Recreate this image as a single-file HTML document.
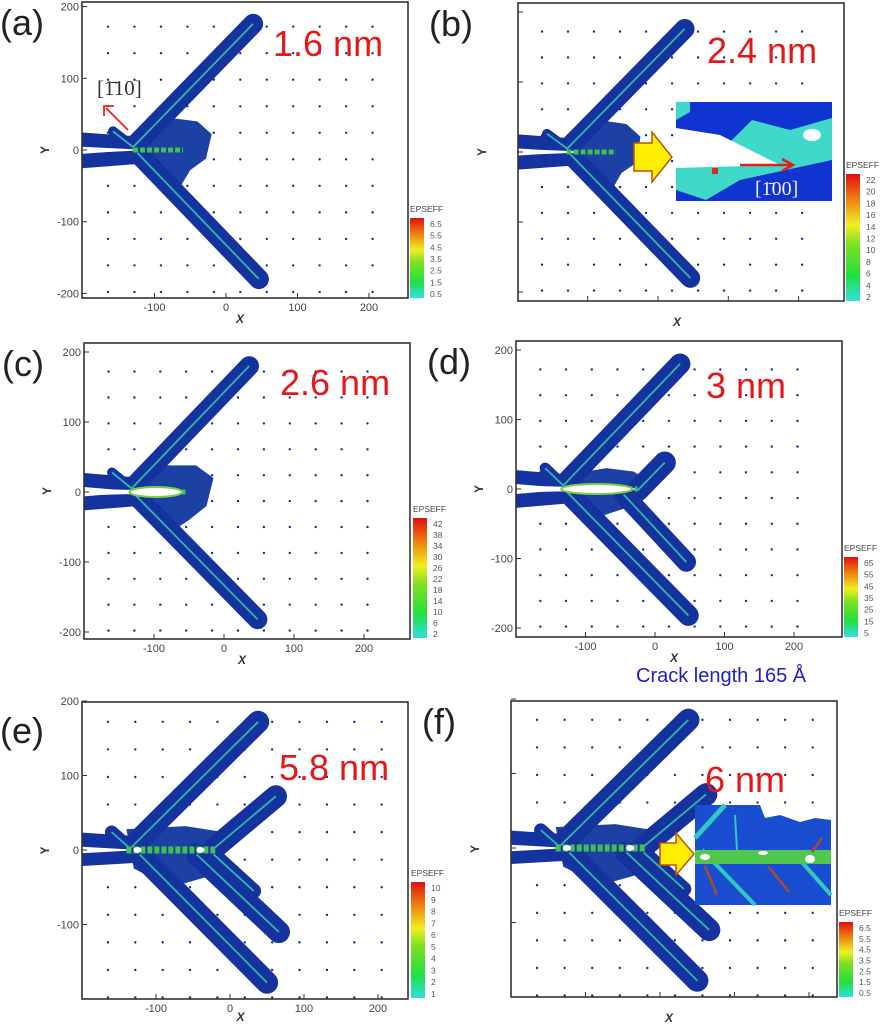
<!DOCTYPE html>
<html><head><meta charset="utf-8">
<style>
html,body{margin:0;padding:0;background:#fff;}
svg{display:block;font-family:"Liberation Sans",sans-serif;}
</style></head>
<body>
<svg id="fig" width="882" height="1024" viewBox="0 0 882 1024" xmlns="http://www.w3.org/2000/svg">
<defs>
<linearGradient id="cbar" x1="0" y1="1" x2="0" y2="0">
<stop offset="0" stop-color="#30e0e0"/><stop offset="0.2" stop-color="#20e040"/><stop offset="0.45" stop-color="#80e020"/><stop offset="0.6" stop-color="#f0f020"/><stop offset="0.8" stop-color="#f08010"/><stop offset="1" stop-color="#e01010"/>
</linearGradient>
</defs>
</svg>
<script>
// panel layout and read-off data
const panelIds = ['a','b','c','d','e','f'];
const panelTimes = ['1.6 nm','2.4 nm','2.6 nm','3 nm','5.8 nm','6 nm'];
const frames = [[82,2,326,296],[518,3,326,298],[84,343,326,296],[516,341,326,296],[82,702,326,297],[511,701,326,296]];
const axes = [[226,0.715,150,0.717],[658,0.703,152,0.70],[224,0.70,492,0.70],[655,0.695,489,0.695],[230,0.74,850,0.745],[660,0.745,848,0.745]];
const showTicks = [true,false,true,true,true,false];
const xTicks = [-100,0,100,200];
const yTicksFull = [200,100,0,-100,-200];
const yTicksE = [200,100,0,-100];
const cbarLabels = [
 ['6.5','5.5','4.5','3.5','2.5','1.5','0.5'],
 ['22','20','18','16','14','12','10','8','6','4','2'],
 ['42','38','34','30','26','22','18','14','10','6','2'],
 ['65','55','45','35','25','15','5'],
 ['10','9','8','7','6','5','4','3','2','1'],
 ['6.5','5.5','4.5','3.5','2.5','1.5','0.5']];
const cbarBoxes = [[410,218,14,80],[846,174,14,127],[413,518,14,120],[844,557,14,80],[411,882,14,116],[839,922,14,75]];
// arms: x1,y1,x2,y2,width (data units)
const arms = [
 [[-130,4,38,176,28],[-124,-4,46,-180,28],[-158,26,-130,4,14]],
 [[-130,4,38,176,28],[-124,-4,46,-180,28],[-158,26,-128,4,14]],
 [[-132,5,36,180,28],[-126,-5,48,-182,28],[-160,28,-132,5,14]],
 [[-132,5,36,180,30],[-126,-5,48,-182,30],[-158,30,-132,5,16],[-25,-2,14,38,32],[-45,-8,45,-105,28]],
 [[-135,2,38,172,30],[-122,-6,50,-178,30],[-160,24,-135,2,18],[-22,2,62,72,30],[-45,-6,66,-110,30],[-22,-6,32,-55,20]],
 [[-135,2,38,172,30],[-122,-6,50,-178,30],[-160,24,-135,2,18],[-22,2,62,72,30],[-45,-6,66,-110,30],[-22,-6,32,-55,20]]];
const leftBands = [[15,-16],[16,-16],[18,-17],[18,-18],[14,-12],[14,-12]];
const blobs = [
 [[-130,20],[-80,45],[-40,40],[-20,22],[-28,-12],[-50,-28],[-62,-48],[-100,-30]],
 [[-130,20],[-80,45],[-45,40],[-25,22],[-30,-15],[-52,-30],[-62,-48],[-100,-30]],
 [[-130,20],[-80,38],[-40,38],[-15,20],[-25,-20],[-50,-40],[-65,-50],[-100,-30]],
 [[-130,20],[-70,30],[-30,25],[-10,10],[-20,-20],[-80,-40],[-110,-30]],
 [[-140,28],[-60,32],[-15,25],[-10,-30],[-80,-50],[-130,-25]],
 [[-140,28],[-60,32],[-15,25],[-10,-30],[-80,-50],[-130,-25]]];
const crackTips = [-130,-118,-55,-28,-140,-140];
const greenEnds = [-60,-60,-55,-25,-20,-20];

const svg = document.getElementById('fig');
const NS='http://www.w3.org/2000/svg';
function mk(tag, attrs, parent){const e=document.createElementNS(NS,tag);for(const k in attrs)e.setAttribute(k,attrs[k]);(parent||svg).appendChild(e);return e;}

panelIds.forEach((id,i)=>{
 const [fx,fy,fw,fh]=frames[i];
 const [x0,sx,y0,sy]=axes[i];
 const X=v=>x0+v*sx, Y=v=>y0-v*sy;
 const g=mk('g',{});
 
 
 const clipId='clip'+id;
 const cp=mk('clipPath',{id:clipId},g); mk('rect',{x:fx,y:fy,width:fw,height:fh},cp);
 const plot=mk('g',{'clip-path':'url(#'+clipId+')'},g);
 
 
 for(let dx=-165;dx<=205;dx+=37){for(let dy=172;dy>=-200;dy-=37){
   mk('circle',{cx:X(dx),cy:Y(dy),r:1.2,fill:'#1a2a90'},plot);
 }}
 const bp=blobs[i].map(p=>X(p[0])+','+Y(p[1])).join(' ');
 const bl=mk('polygon',{points:bp,fill:'#1d40a4'},plot);
 
 
 const lb=leftBands[i];
 lb.forEach(yv=>{
   const b=mk('line',{x1:X(-210),y1:Y(yv),x2:X(-125),y2:Y(yv*0.6),stroke:'#14339e','stroke-width':20*sy},plot);
   
   
 });
 arms[i].forEach(a=>{
   const b=mk('line',{x1:X(a[0]),y1:Y(a[1]),x2:X(a[2]),y2:Y(a[3]),stroke:'#14339e','stroke-width':a[4]*sx,'stroke-linecap':'round'},plot);
   
   
 });
 arms[i].forEach(a=>{
   const c=mk('line',{x1:X(a[0]),y1:Y(a[1]),x2:X(a[2]),y2:Y(a[3]),stroke:'#30b8a8','stroke-width':1.8},plot);
   
   
 });
 const tip=crackTips[i];
 const cr=mk('polygon',{points:[X(-210)+','+Y(5),X(tip)+','+Y(1),X(tip)+','+Y(-1),X(-210)+','+Y(-5)].join(' '),fill:'#fff'},plot);
 
 
 const ge=greenEnds[i];
 const gz=mk('line',{x1:X(Math.min(tip,-130)),y1:Y(0),x2:X(ge),y2:Y(0),stroke:'#40c050','stroke-width':(i>=4?7:5),'stroke-dasharray':'5 2'},plot);
 
 
 if(i===2||i===3){
   const w=mk('ellipse',{cx:X((tip-120)/2+ -10),cy:Y(0),rx:(Math.abs(tip+130)/2)*sx,ry:5,fill:'#fff',stroke:'#7ad040','stroke-width':2},plot);
   
   
 }
 if(i>=4){
   [[-125,0],[-40,0]].forEach(p=>{const v=mk('ellipse',{cx:X(p[0]),cy:Y(p[1]),rx:4,ry:3,fill:'#fff'},plot);
   });
 }
 const fr=mk('rect',{x:fx,y:fy,width:fw,height:fh,fill:'none',stroke:'#333','stroke-width':1.6},g);
 
 
 xTicks.forEach(t=>{mk('line',{x1:X(t),y1:fy+fh,x2:X(t),y2:fy+fh-5,stroke:'#333'},g);
   if(showTicks[i]){const tx=mk('text',{x:X(t),y:fy+fh+13,'font-size':11,fill:'#444','text-anchor':'middle'},g);tx.textContent=t;
   }});
 const yt = i===4?yTicksE:yTicksFull;
 yt.forEach(t=>{mk('line',{x1:fx,y1:Y(t),x2:fx+5,y2:Y(t),stroke:'#333'},g);
   if(showTicks[i]){const ty=mk('text',{x:fx-3,y:Y(t)+4,'font-size':11,fill:'#444','text-anchor':'end'},g);ty.textContent=t;
   }});
 const xl=mk('text',{x:fx+fh/2+10,y:fy+fh+(i===4?22:25),'font-size':12,'font-weight':'bold','font-style':'italic',fill:'#333','text-anchor':'middle'},g);
 xl.textContent='X';
 const yx=fx-(showTicks[i]?33:32), yy=fy+fh/2;
 const yl=mk('text',{x:yx,y:yy,'font-size':12,'font-weight':'bold',fill:'#333','text-anchor':'middle',transform:'rotate(-90 '+yx+' '+yy+')'},g);
 yl.textContent='Y';
 const pl=mk('text',{x:fx-82+(i%2?-7:0),y:fy+33+(i===4?8:0),'font-size':36,fill:'#222'},g);
 pl.textContent='('+id+')';
 const tl=[[273,56],[707,63],[280,395],[706,398],[279,780],[705,792]][i];
 const tt=mk('text',{x:tl[0],y:tl[1],'font-size':36,fill:'#e41818'},g);
 tt.textContent=panelTimes[i];
 const [cx,cy,cw,ch]=cbarBoxes[i];
 const cb=mk('rect',{x:cx,y:cy,width:cw,height:ch,fill:'url(#cbar)'},g);
 
 const ct=mk('text',{x:cx,y:cy-6,'font-size':8.5,fill:'#444'},g);
 ct.textContent='EPSEFF';
 const labs=cbarLabels[i];
 labs.forEach((s,k)=>{const ly=cy+6+k*(ch-10)/(labs.length-1)+3;
   const lt=mk('text',{x:cx+cw+6,y:ly,'font-size':8.5,fill:'#555'},g);lt.textContent=s;
   });
});

const ann=mk('g',{});
const t110=mk('text',{x:97,y:95,'font-size':21,'font-family':'Liberation Serif, serif',fill:'#333'},ann);t110.textContent='[1\u030410]';
mk('line',{x1:128,y1:130,x2:106,y2:108,stroke:'#e22','stroke-width':1.8},ann);
mk('polyline',{points:'104,116 104,106 114,106',fill:'none',stroke:'#e22','stroke-width':1.8},ann);

const ib=mk('g',{});
mk('rect',{x:676,y:102,width:156,height:99,fill:'#1034d0'},ib);
mk('polygon',{points:'676,190 676,165 712,160 752,120 790,130 832,118 832,160 740,180 706,200',fill:'#40d8c8'},ib);
mk('polygon',{points:'676,128 676,168 780,165 720,135',fill:'#fff'},ib);
mk('polygon',{points:'676,102 690,102 690,112 676,120',fill:'#40d8c8'},ib);
mk('ellipse',{cx:812,cy:135,rx:9,ry:6,fill:'#fff'},ib);
mk('rect',{x:712,y:168,width:6,height:6,fill:'#d03020'},ib);
mk('line',{x1:740,y1:165,x2:792,y2:165,stroke:'#e02020','stroke-width':2.5},ib);
mk('polyline',{points:'782,159 793,165 782,171',fill:'none',stroke:'#e02020','stroke-width':2.5},ib);
const t100=mk('text',{x:755,y:195,'font-size':20,'font-family':'Liberation Serif, serif',fill:'#eee'},ib);t100.textContent='[1\u030400]';
const ya=mk('polygon',{points:'634,143 652,143 652,132 672,157 652,182 652,171 634,171',fill:'#ffee00',stroke:'#c05010','stroke-width':1.5});


const inf=mk('g',{});
mk('rect',{x:695,y:805,width:136,height:100,fill:'#1a4ed0'},inf);
mk('polygon',{points:'760,805 831,805 831,820 815,818 800,822 780,815 765,818',fill:'#fff'},inf);
mk('line',{x1:695,y1:838,x2:725,y2:805,stroke:'#30c8c0','stroke-width':5},inf);
mk('line',{x1:702,y1:850,x2:755,y2:905,stroke:'#30c8c0','stroke-width':4},inf);
mk('line',{x1:800,y1:860,x2:831,y2:895,stroke:'#30c8c0','stroke-width':4},inf);
mk('line',{x1:735,y1:815,x2:737,y2:850,stroke:'#30c8c0','stroke-width':2},inf);
mk('rect',{x:695,y:850,width:136,height:14,fill:'#50c850'},inf);
mk('ellipse',{cx:705,cy:857,rx:5,ry:3,fill:'#fff'},inf);
mk('ellipse',{cx:763,cy:853,rx:5,ry:2,fill:'#fff'},inf);
mk('ellipse',{cx:810,cy:859,rx:5,ry:4,fill:'#fff'},inf);
[[717,895,705,866],[789,892,768,866],[822,838,812,852]].forEach(a=>{
 mk('line',{x1:a[0],y1:a[1],x2:a[2],y2:a[3],stroke:'#a84a30','stroke-width':2.5},inf);});
const yf=mk('polygon',{points:'660,843 676,843 676,833 694,854 676,875 676,865 660,865',fill:'#ffee00',stroke:'#c05010','stroke-width':1.5});


const ck=mk('text',{x:636,y:682,'font-size':20,fill:'#2020c0'});
ck.textContent='Crack length 165 Å';
</script>
</body></html>
